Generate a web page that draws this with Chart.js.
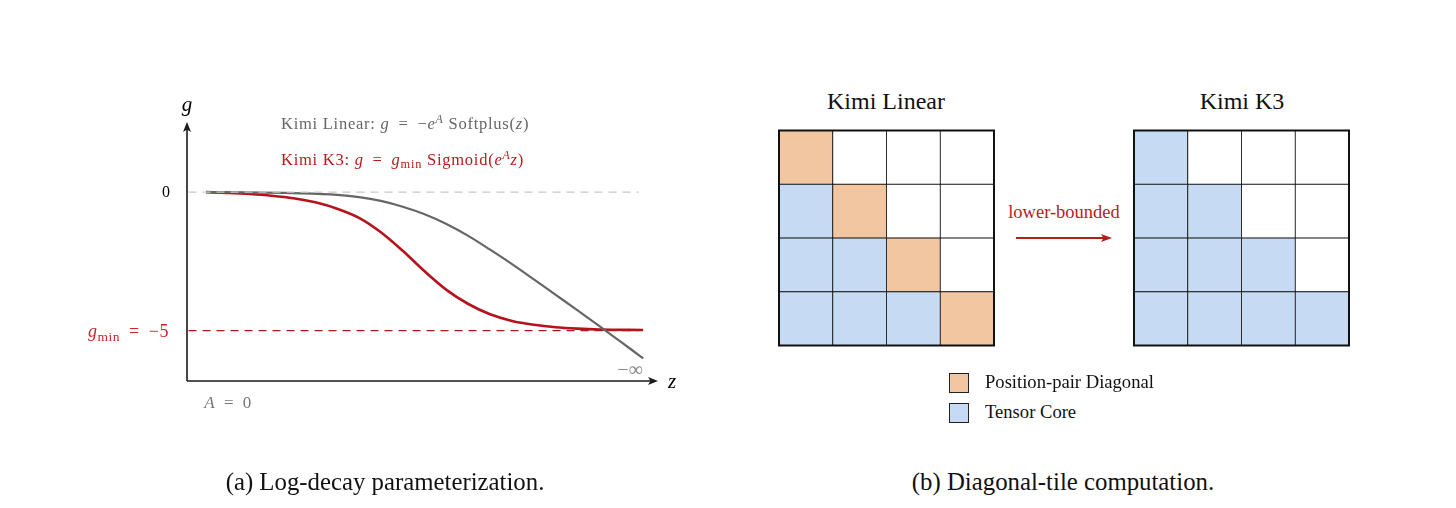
<!DOCTYPE html>
<html>
<head>
<meta charset="utf-8">
<script src="https://cdn.jsdelivr.net/npm/chart.js@4.4.1/dist/chart.umd.min.js"></script>
<style>
  body { margin: 0; width: 1456px; height: 508px; position: relative; background: #fff; overflow: hidden; font-family: 'Liberation Serif', serif; }
  .box { position: absolute; }
  .lbl { position: absolute; white-space: nowrap; line-height: 1; transform: translate(-50%, -50%); }
  .lbl.left { transform: translate(0, -50%); }
  .lbl.right { transform: translate(-100%, -50%); }
  .math { letter-spacing: 0.5px; }
  .formula { letter-spacing: 0.75px; }
  sub { font-size: 0.75em; vertical-align: -0.28em; line-height: 0; }
  sup { font-size: 0.72em; vertical-align: 0.48em; line-height: 0; }
  .sw { position: absolute; width: 20px; height: 20px; box-sizing: border-box; border: 1.3px solid #222; }
</style>
</head>
<body>

<div class="box" style="left:0;top:0;width:728px;height:508px"><canvas id="curveChart"></canvas></div>
<div class="box" style="left:777px;top:128px;width:219px;height:220px"><canvas id="linearGrid"></canvas></div>
<div class="box" style="left:1132px;top:128px;width:219px;height:220px"><canvas id="k3Grid"></canvas></div>

<!-- left panel labels -->
<div class="lbl" style="left:187px;top:104px;font-size:21px;font-style:italic">g</div>
<div class="lbl" style="left:166px;top:192px;font-size:16px">0</div>
<div class="lbl right math" style="left:169px;top:331px;font-size:18px;color:#c62828"><i>g</i><sub>min</sub>&thinsp; = &thinsp;−5</div>
<div class="lbl math" style="left:228px;top:402px;font-size:17px;color:#777"><i>A</i>&thinsp; = &thinsp;0</div>
<div class="lbl" style="left:630px;top:369px;font-size:20px;color:#888">−∞</div>
<div class="lbl" style="left:672px;top:381px;font-size:21px;font-style:italic">z</div>
<div class="lbl left formula" style="left:281px;top:124px;font-size:16.5px;color:#666">Kimi Linear: <i>g</i>&thinsp; = &thinsp;−<i>e</i><sup><i>A</i></sup> Softplus(<i>z</i>)</div>
<div class="lbl left formula" style="left:281px;top:160px;font-size:16.5px;color:#b71c1c">Kimi K3: <i>g</i>&thinsp; = &thinsp;<i>g</i><sub>min</sub> Sigmoid(<i>e</i><sup><i>A</i></sup><i>z</i>)</div>

<!-- right panel labels -->
<div class="lbl" style="left:886px;top:101px;font-size:24px;color:#111">Kimi Linear</div>
<div class="lbl" style="left:1242px;top:101px;font-size:24px;color:#111">Kimi K3</div>
<div class="lbl" style="left:1064px;top:212px;font-size:18.5px;color:#b71c1c">lower-bounded</div>
<svg style="position:absolute;left:1010px;top:230px" width="110" height="16">
  <line x1="6" y1="8" x2="94" y2="8" stroke="#b71c1c" stroke-width="2"/>
  <path d="M102 8 L91 4 L93.5 8 L91 12 Z" fill="#b71c1c"/>
</svg>
<div class="sw" style="left:949px;top:373px;background:#F2C6A0"></div>
<div class="sw" style="left:949px;top:403px;background:#C6DBF3"></div>
<div class="lbl left" style="left:985px;top:382px;font-size:18.6px;color:#111">Position-pair Diagonal</div>
<div class="lbl left" style="left:985px;top:412px;font-size:18.6px;color:#111">Tensor Core</div>

<!-- captions -->
<div class="lbl" style="left:385px;top:482px;font-size:24.8px;color:#111">(a) Log-decay parameterization.</div>
<div class="lbl" style="left:1063px;top:482px;font-size:24.8px;color:#111">(b) Diagonal-tile computation.</div>

<script>
// --- left panel: log-decay curves ---
const zLinear = [0, 1, 2, 3, 3.5, 4, 4.5, 5, 5.5, 6, 6.5, 7, 7.5, 8, 8.5, 9, 9.5, 10];
const gLinear = [0, -0.01, -0.04, -0.10, -0.18, -0.32, -0.53, -0.80, -1.15, -1.58, -2.08, -2.60, -3.15, -3.71, -4.27, -4.84, -5.42, -6.0];

const zK3 = [0, 0.5, 1, 1.5, 2, 2.5, 3, 3.5, 4, 4.5, 5, 5.5, 6, 6.5, 7, 7.5, 8, 8.5, 9, 10];
const gK3 = [0, -0.03, -0.07, -0.13, -0.22, -0.37, -0.60, -0.93, -1.45, -2.12, -2.86, -3.53, -4.04, -4.41, -4.65, -4.79, -4.88, -4.93, -4.96, -4.98];

const refZ = [-0.4, 9.9];   // extent of the dashed guide lines
const gZero = 0;
const gMin = -5;

// --- right panel: 4x4 tiles, top row first ---
const tileCols = ['c1', 'c2', 'c3', 'c4'];
const linearTiles = [
    ['diag', 'none', 'none', 'none'],
    ['tensor', 'diag', 'none', 'none'],
    ['tensor', 'tensor', 'diag', 'none'],
    ['tensor', 'tensor', 'tensor', 'diag']
];
const k3Tiles = [
    ['tensor', 'none', 'none', 'none'],
    ['tensor', 'tensor', 'none', 'none'],
    ['tensor', 'tensor', 'tensor', 'none'],
    ['tensor', 'tensor', 'tensor', 'tensor']
];
const tileHeight = [1, 1, 1, 1];

const tileColors = { diag: '#F2C6A0', tensor: '#C6DBF3', none: '#FFFFFF' };

function pts(xs, ys) {
    return xs.map((x, i) => ({ x: x, y: ys[i] }));
}

// оси со стрелками
const axisArrows = {
    id: 'axisArrows',
    afterDatasetsDraw(chart) {
        const { ctx, chartArea: a } = chart;
        ctx.save();
        ctx.strokeStyle = '#1a1a1a';
        ctx.fillStyle = '#1a1a1a';
        ctx.lineWidth = 1.6;
        ctx.beginPath();
        ctx.moveTo(a.left, a.bottom);
        ctx.lineTo(a.right - 5, a.bottom);
        ctx.moveTo(a.left, a.bottom);
        ctx.lineTo(a.left, a.top + 5);
        ctx.stroke();
        ctx.beginPath();
        ctx.moveTo(a.right, a.bottom);
        ctx.lineTo(a.right - 10, a.bottom - 4);
        ctx.lineTo(a.right - 7.5, a.bottom);
        ctx.lineTo(a.right - 10, a.bottom + 4);
        ctx.closePath();
        ctx.fill();
        ctx.beginPath();
        ctx.moveTo(a.left, a.top);
        ctx.lineTo(a.left - 4, a.top + 10);
        ctx.lineTo(a.left, a.top + 7.5);
        ctx.lineTo(a.left + 4, a.top + 10);
        ctx.closePath();
        ctx.fill();
        ctx.restore();
    }
};

const gridFrame = {
    id: 'gridFrame',
    afterDatasetsDraw(chart) {
        const { ctx, chartArea: a } = chart;
        ctx.save();
        ctx.strokeStyle = '#111';
        ctx.lineWidth = 2;
        ctx.strokeRect(a.left, a.top, a.right - a.left, a.bottom - a.top);
        ctx.restore();
    }
};

document.addEventListener('DOMContentLoaded', function() {
    Chart.defaults.animation = false;

    new Chart(document.getElementById('curveChart'), {
        type: 'scatter',
        data: {
            datasets: [
                {
                    label: 'zero',
                    data: pts(refZ, [gZero, gZero]),
                    showLine: true, pointRadius: 0,
                    borderColor: '#c8c8c8', borderWidth: 1.3, borderDash: [8, 6]
                },
                {
                    label: 'gmin',
                    data: pts(refZ, [gMin, gMin]),
                    showLine: true, pointRadius: 0,
                    borderColor: '#a81c1c', borderWidth: 1.4, borderDash: [8, 6]
                },
                {
                    label: 'Kimi Linear',
                    data: pts(zLinear, gLinear),
                    showLine: true, pointRadius: 0,
                    borderColor: '#666666', borderWidth: 2.2,
                    cubicInterpolationMode: 'monotone'
                },
                {
                    label: 'Kimi K3',
                    data: pts(zK3, gK3),
                    showLine: true, pointRadius: 0,
                    borderColor: '#b5121b', borderWidth: 2.6,
                    cubicInterpolationMode: 'monotone'
                }
            ]
        },
        options: {
            responsive: true,
            maintainAspectRatio: false,
            events: [],
            layout: { padding: { left: 187, right: 70, top: 122, bottom: 127 } },
            plugins: { legend: { display: false }, tooltip: { enabled: false } },
            scales: {
                x: { type: 'linear', display: false, min: -0.435, max: 10.34 },
                y: { type: 'linear', display: false, min: -6.82, max: 2.53 }
            }
        },
        plugins: [axisArrows]
    });

    function tileChart(id, tiles) {
        // stacked bars: first dataset is the bottom row
        const rows = tiles.slice().reverse();
        return new Chart(document.getElementById(id), {
            type: 'bar',
            data: {
                labels: tileCols,
                datasets: rows.map((row, i) => ({
                    label: 'row' + i,
                    data: tileHeight,
                    backgroundColor: row.map(t => tileColors[t]),
                    borderColor: '#111',
                    borderWidth: 0.8,
                    borderSkipped: false,
                    categoryPercentage: 1,
                    barPercentage: 1
                }))
            },
            options: {
                responsive: true,
                maintainAspectRatio: false,
                events: [],
                layout: { padding: { left: 2, right: 2, top: 2.5, bottom: 2.5 } },
                plugins: { legend: { display: false }, tooltip: { enabled: false } },
                scales: {
                    x: { stacked: true, display: false },
                    y: { stacked: true, display: false, min: 0, max: 4 }
                }
            },
            plugins: [gridFrame]
        });
    }

    tileChart('linearGrid', linearTiles);
    tileChart('k3Grid', k3Tiles);
});
</script>
</body>
</html>
